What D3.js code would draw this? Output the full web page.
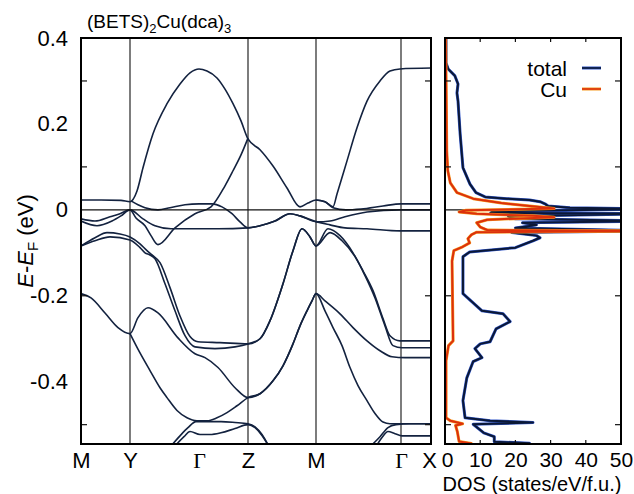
<!DOCTYPE html>
<html>
<head>
<meta charset="utf-8">
<script src="https://cdn.jsdelivr.net/npm/d3@7"></script>
<style>
  body { margin: 0; background: #fff; }
  text { font-family: "Liberation Sans", Arial, sans-serif; fill: #000; }
</style>
</head>
<body>
<svg id="chart" width="634" height="494"></svg>
<script>
// k-path (arbitrary path units) and special points
const kLabels = ["M", "Y", "Γ", "Z", "M", "Γ", "X"];
const kTicks = [0, 49, 118, 167, 235, 320, 350];
const kLines = [49, 167, 235, 320];
const eTicks = [0.4, 0.2, 0, -0.2, -0.4];
const eMinor = [0.3, 0.1, -0.2, -0.5];
const dosTicks = [0, 10, 20, 30, 40, 50];
const dosMinor = [10, 20, 30, 40];

// bands: [k, E-EF (eV)]
const bandA = [[0,0.023],[20,0.023],[40,0.022],[49,0.019],[56,0.044],[62,0.098],[72,0.177],[86,0.247],[99,0.293],[109,0.319],[118,0.328],[126,0.323],[136,0.307],[144,0.281],[152,0.247],[160,0.207],[167,0.165],[179,0.14],[192,0.102],[206,0.051],[219,0.007],[227,0.016],[235,0.023],[244,0.019],[252,0.007],[256,0.037],[266,0.114],[276,0.191],[286,0.253],[299,0.3],[309,0.323],[319,0.328],[350,0.33]];
const bandF = [[235,0.023],[244,0.019],[252,0.005],[265,0.0],[280,0.002],[302,0.009],[320,0.014],[350,0.014]];
const bandB = [[0,-0.026],[16,-0.037],[31,-0.026],[40,-0.014],[49,0],[55,-0.019],[64,-0.037],[70,-0.06],[77,-0.081],[94,-0.042],[114,-0.009],[130,0.007],[144,0.056],[152,0.091],[160,0.128],[167,0.167]];
const bandC = [[50,0.021],[57,0.012],[64,0.005],[77,0],[89,0.005],[104,0.012],[118,0.014],[131,0.014],[141,0.007],[151,-0.009],[159,-0.028],[167,-0.042],[179,-0.037],[194,-0.026],[209,-0.009],[219,-0.014],[236,-0.028],[249,-0.026],[264,-0.016],[286,-0.005],[319,0],[350,0]];
const bandD = [[0,-0.021],[14,-0.026],[29,-0.016],[39,-0.009],[49,0],[62,-0.021],[74,-0.037],[90,-0.044],[114,-0.044],[137,-0.044],[167,-0.042],[179,-0.037],[194,-0.026],[209,-0.009],[219,-0.014],[236,-0.028],[249,-0.035],[264,-0.042],[286,-0.044],[319,-0.049],[350,-0.049]];
const bandC4 = [[0,-0.084],[14,-0.065],[26,-0.053],[39,-0.056],[49,-0.063],[59,-0.079],[66,-0.095],[71,-0.105],[79,-0.123],[89,-0.181],[99,-0.247],[109,-0.295],[117,-0.307],[139,-0.309],[167,-0.312],[179,-0.3],[189,-0.258],[202,-0.172],[212,-0.095],[221,-0.044],[229,-0.063],[235,-0.084],[247,-0.044],[259,-0.06],[272,-0.1],[282,-0.142],[292,-0.188],[302,-0.253],[309,-0.293],[319,-0.305],[350,-0.305]];
const bandC5 = [[0,-0.084],[14,-0.072],[29,-0.063],[49,-0.07],[59,-0.088],[64,-0.1],[69,-0.105],[74,-0.114],[84,-0.172],[94,-0.235],[104,-0.293],[114,-0.319],[134,-0.323],[154,-0.319],[167,-0.312],[179,-0.3],[189,-0.258],[202,-0.172],[212,-0.095],[221,-0.044],[229,-0.063],[235,-0.084],[249,-0.053],[261,-0.072],[274,-0.109],[284,-0.153],[294,-0.205],[304,-0.27],[312,-0.316],[321,-0.321],[350,-0.321]];
const bandC6a = [[0,-0.195],[10,-0.205],[24,-0.24],[37,-0.274],[49,-0.288],[57,-0.251],[67,-0.228],[77,-0.24],[97,-0.298],[114,-0.335],[124,-0.344],[137,-0.367],[154,-0.414],[167,-0.437],[179,-0.428],[192,-0.398],[202,-0.363],[212,-0.312],[219,-0.27],[226,-0.235],[231,-0.212],[235,-0.195],[244,-0.212],[259,-0.242],[272,-0.274],[286,-0.305],[299,-0.328],[311,-0.342],[324,-0.344],[350,-0.344]];
const bandC6b = [[49,-0.288],[59,-0.333],[69,-0.374],[79,-0.414],[86,-0.437],[96,-0.467],[106,-0.484],[116,-0.491],[126,-0.491],[136,-0.484],[146,-0.472],[156,-0.456],[167,-0.437],[179,-0.428],[192,-0.398],[202,-0.363],[212,-0.312],[219,-0.27],[226,-0.235],[231,-0.212],[235,-0.195],[244,-0.235],[252,-0.274],[261,-0.316],[269,-0.367],[277,-0.409],[286,-0.444],[294,-0.474],[302,-0.494],[309,-0.498],[350,-0.498]];
const bandC7 = [[91,-0.547],[99,-0.526],[107,-0.507],[115,-0.493],[129,-0.493],[140,-0.493],[154,-0.495],[167,-0.498],[174,-0.505],[181,-0.523],[187,-0.547]];
const bandC8 = [[95,-0.547],[103,-0.528],[109,-0.516],[119,-0.523],[129,-0.523],[140,-0.519],[154,-0.509],[167,-0.5],[174,-0.507],[181,-0.525],[187,-0.547]];
const bandE2 = [[291,-0.547],[299,-0.528],[307,-0.507],[315,-0.5],[329,-0.498],[350,-0.498]];
const bandE3 = [[296,-0.547],[301,-0.53],[307,-0.516],[314,-0.521],[321,-0.526],[350,-0.526]];

// DOS: [E-EF (eV), states/eV/f.u.]
const totalDos = [[0.40,0.3],[0.342,0.3],[0.328,0.9],[0.312,2.8],[0.293,3.7],[0.272,3.4],[0.253,3.7],[0.177,4.3],[0.098,5.1],[0.060,7.1],[0.040,8.8],[0.030,11.4],[0.026,17.6],[0.023,24],[0.019,27],[0.014,28.4],[0.009,29.3],[0.005,35.5],[0.002,60],[-0.003,14],[-0.007,13],[-0.009,60],[-0.015,18],[-0.021,20],[-0.026,60],[-0.030,22],[-0.035,26],[-0.042,20],[-0.049,60],[-0.053,19],[-0.060,26],[-0.065,27],[-0.072,25],[-0.088,20],[-0.098,7],[-0.109,5.1],[-0.195,5.1],[-0.235,10.5],[-0.242,16.5],[-0.260,18.5],[-0.277,14.5],[-0.307,12.8],[-0.312,10],[-0.323,8.5],[-0.344,10.5],[-0.353,8],[-0.391,6.2],[-0.444,5.1],[-0.484,5.7],[-0.491,12.8],[-0.495,25],[-0.499,8],[-0.519,11],[-0.528,14],[-0.540,14],[-0.543,24],[-0.55,24]];
const cuDos = [[0.40,0.2],[0.137,0.5],[0.091,0.8],[0.063,1.5],[0.040,3.4],[0.026,8],[0.016,16],[0.009,24],[0.003,31],[-0.001,6],[-0.005,4],[-0.009,9],[-0.014,25],[-0.017,31],[-0.023,12],[-0.030,9],[-0.040,10],[-0.047,12],[-0.049,60],[-0.052,9],[-0.058,7.5],[-0.067,6.5],[-0.077,7],[-0.086,5],[-0.095,2.5],[-0.119,2],[-0.305,2.3],[-0.316,1],[-0.351,0.3],[-0.484,0.3],[-0.491,1.5],[-0.498,5],[-0.502,3],[-0.516,3.5],[-0.539,4],[-0.544,7.5],[-0.55,8]];

const legendNames = ["total", "Cu"];

const bands = [bandA, bandF, bandB, bandC, bandD, bandC4, bandC5, bandC6a, bandC6b, bandC7, bandC8, bandE2, bandE3];

const svg = d3.select("#chart");
const box = { left: 81, right: 431, top: 38, bottom: 444 };
const dbox = { left: 445, right: 621 };

const k = d3.scaleLinear().domain([0, 350]).range([box.left, box.right]);
const e = d3.scaleLinear().domain([-0.545, 0.4]).range([box.bottom, box.top]);
const dos = d3.scaleLinear().domain([0, 50]).range([dbox.left, dbox.right]);

const defs = svg.append("defs");
defs.append("clipPath").attr("id", "clipBand").append("rect")
  .attr("x", box.left).attr("y", box.top)
  .attr("width", box.right - box.left).attr("height", box.bottom - box.top);
defs.append("clipPath").attr("id", "clipDos").append("rect")
  .attr("x", dbox.left).attr("y", box.top)
  .attr("width", dbox.right - dbox.left).attr("height", box.bottom - box.top);

// high-symmetry lines and Fermi level
const bandG = svg.append("g").attr("clip-path", "url(#clipBand)");
bandG.selectAll(".kline").data(kLines).enter().append("line")
  .attr("x1", d => k(d)).attr("x2", d => k(d))
  .attr("y1", box.top).attr("y2", box.bottom)
  .attr("stroke", "#111").attr("stroke-width", 1.1);
svg.append("line").attr("x1", box.left).attr("x2", box.right)
  .attr("y1", e(0)).attr("y2", e(0)).attr("stroke", "#111").attr("stroke-width", 1.1);
svg.append("line").attr("x1", dbox.left).attr("x2", dbox.right)
  .attr("y1", e(0)).attr("y2", e(0)).attr("stroke", "#111").attr("stroke-width", 1.1);

const bandLine = d3.line().x(d => k(d[0])).y(d => e(d[1])).curve(d3.curveMonotoneX);
bandG.selectAll(".band").data(bands).enter().append("path")
  .attr("class", "band")
  .attr("d", bandLine)
  .attr("fill", "none")
  .attr("stroke", "#13223f")
  .attr("stroke-width", 1.6);

// DOS
const dosG = svg.append("g").attr("clip-path", "url(#clipDos)");
const dosLine = d3.line().x(d => dos(d[1])).y(d => e(d[0]));
dosG.append("path").attr("d", dosLine(totalDos)).attr("fill", "none")
  .attr("stroke", "#2f55c8").attr("stroke-width", 3).attr("stroke-linejoin", "round");
dosG.append("path").attr("d", dosLine(totalDos)).attr("fill", "none")
  .attr("stroke", "#0b1836").attr("stroke-width", 2).attr("stroke-linejoin", "round");
dosG.append("path").attr("d", dosLine(cuDos)).attr("fill", "none")
  .attr("stroke", "#f59a20").attr("stroke-width", 3).attr("stroke-linejoin", "round");
dosG.append("path").attr("d", dosLine(cuDos)).attr("fill", "none")
  .attr("stroke", "#dc300c").attr("stroke-width", 2).attr("stroke-linejoin", "round");

// inner ticks
const tickLen = 6;
[[box.left, 1], [box.right, -1], [dbox.left, 1], [dbox.right, -1]].forEach(([x, dir]) => {
  svg.selectAll(null).data(eMinor).enter().append("line")
    .attr("x1", x).attr("x2", x + dir * tickLen)
    .attr("y1", d => e(d)).attr("y2", d => e(d))
    .attr("stroke", "#111").attr("stroke-width", 1.2);
});
[[box.top, 1], [box.bottom, -1]].forEach(([y, dir]) => {
  svg.selectAll(null).data(dosMinor).enter().append("line")
    .attr("x1", d => dos(d)).attr("x2", d => dos(d))
    .attr("y1", y).attr("y2", y + dir * 4)
    .attr("stroke", "#111").attr("stroke-width", 1.2);
});

// frames
svg.append("rect").attr("x", box.left).attr("y", box.top)
  .attr("width", box.right - box.left).attr("height", box.bottom - box.top)
  .attr("fill", "none").attr("stroke", "#000").attr("stroke-width", 2);
svg.append("rect").attr("x", dbox.left).attr("y", box.top)
  .attr("width", dbox.right - dbox.left).attr("height", box.bottom - box.top)
  .attr("fill", "none").attr("stroke", "#000").attr("stroke-width", 2);

// axes labels
const yAxis = svg.append("g").attr("transform", `translate(${box.left},0)`)
  .call(d3.axisLeft(e).tickValues(eTicks).tickSize(0).tickPadding(13)
    .tickFormat(d => d === 0 ? "0" : d.toFixed(1)));
yAxis.select(".domain").remove();
yAxis.selectAll("text").style("font-size", "22px").style("font-family", "Liberation Sans, Arial, sans-serif");

const kAxis = svg.append("g").attr("transform", `translate(0,${box.bottom})`)
  .call(d3.axisBottom(k).tickValues(kTicks).tickSize(0).tickPadding(8)
    .tickFormat((d, i) => kLabels[i]));
kAxis.select(".domain").remove();
kAxis.selectAll("text").style("font-size", "22px")
  .style("font-family", (d, i) => kLabels[i] === "Γ" ? "Liberation Serif, serif" : "Liberation Sans, Arial, sans-serif");
kAxis.selectAll("text").filter((d, i) => kLabels[i] === "X").attr("x", -2);

const dAxis = svg.append("g").attr("transform", `translate(0,${box.bottom})`)
  .call(d3.axisBottom(dos).tickValues(dosTicks).tickSize(0).tickPadding(8));
dAxis.select(".domain").remove();
dAxis.selectAll("text").style("font-size", "21px").style("font-family", "Liberation Sans, Arial, sans-serif");
dAxis.selectAll("text").filter(d => d === 0).attr("x", 2);

svg.append("text").attr("x", 532).attr("y", 491).attr("text-anchor", "middle")
  .style("font-size", "20px").text("DOS (states/eV/f.u.)");

const yl = svg.append("text").attr("transform", "translate(33,241) rotate(-90)")
  .attr("text-anchor", "middle").style("font-size", "22px");
yl.append("tspan").style("font-style", "italic").text("E");
yl.append("tspan").text("-");
yl.append("tspan").style("font-style", "italic").text("E");
yl.append("tspan").attr("dy", 5).style("font-size", "15px").text("F");
yl.append("tspan").attr("dy", -5).text(" (eV)");

const title = svg.append("text").attr("x", 87).attr("y", 28).style("font-size", "19px");
title.append("tspan").text("(BETS)");
title.append("tspan").attr("dy", 5).style("font-size", "13px").text("2");
title.append("tspan").attr("dy", -5).text("Cu(dca)");
title.append("tspan").attr("dy", 5).style("font-size", "13px").text("3");

// legend
const legColors = [["#2f55c8", "#0b1836"], ["#f59a20", "#dc300c"]];
legendNames.forEach((name, i) => {
  const y = 68 + i * 21;
  svg.append("text").attr("x", 567).attr("y", y + 8).attr("text-anchor", "end")
    .style("font-size", "21px").text(name);
  svg.append("line").attr("x1", 582).attr("x2", 601).attr("y1", y).attr("y2", y)
    .attr("stroke", legColors[i][0]).attr("stroke-width", 3);
  svg.append("line").attr("x1", 582).attr("x2", 601).attr("y1", y).attr("y2", y)
    .attr("stroke", legColors[i][1]).attr("stroke-width", 1.6);
});
</script>
</body>
</html>
